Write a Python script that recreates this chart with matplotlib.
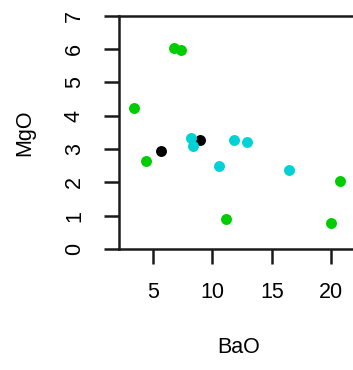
import matplotlib
matplotlib.use("Agg")
import matplotlib.pyplot as plt

# BaO / MgO values, grouped by colour
green_bao = [6.77, 7.35, 3.42, 4.41, 11.17, 19.97, 20.75]
green_mgo = [6.04, 5.97, 4.22, 2.63, 0.89, 0.78, 2.04]
black_bao = [5.67, 8.98]
black_mgo = [2.95, 3.27]
cyan_bao = [8.17, 8.34, 10.58, 11.79, 12.89, 16.43]
cyan_mgo = [3.34, 3.10, 2.48, 3.27, 3.22, 2.37]

x_ticks = [5, 10, 15, 20]
y_ticks = [0, 1, 2, 3, 4, 5, 6, 7]

plt.rcParams["font.family"] = ["Liberation Sans", "DejaVu Sans"]

fig = plt.figure(figsize=(3.53, 3.70), dpi=100)
ax = fig.add_axes([119 / 353, 121 / 370, 240 / 353, 233.3 / 370])

ax.scatter(green_bao, green_mgo, s=62, color="#00CD00", linewidths=0, zorder=3)
ax.scatter(black_bao, black_mgo, s=62, color="black", linewidths=0, zorder=3)
ax.scatter(cyan_bao, cyan_mgo, s=62, color="#00D2D6", linewidths=0, zorder=3)

ax.set_xlim(2.13, 22.35)
ax.set_ylim(0, 7)
ax.set_xticks(x_ticks)
ax.set_yticks(y_ticks)

for sp in ax.spines.values():
    sp.set_linewidth(1.8)
    sp.set_color("#1a1a1a")
ax.tick_params(axis="both", length=10.5, width=1.8, labelsize=15.5, color="#1a1a1a")
ax.tick_params(axis="x", pad=13)
ax.tick_params(axis="y", pad=14, labelrotation=90)
for lab in ax.get_yticklabels():
    lab.set_va("center")

ax.set_xlabel("BaO", fontsize=15.5, labelpad=25)
ax.set_ylabel("MgO", fontsize=15.5, labelpad=21)

fig.savefig("out.png", dpi=100)
